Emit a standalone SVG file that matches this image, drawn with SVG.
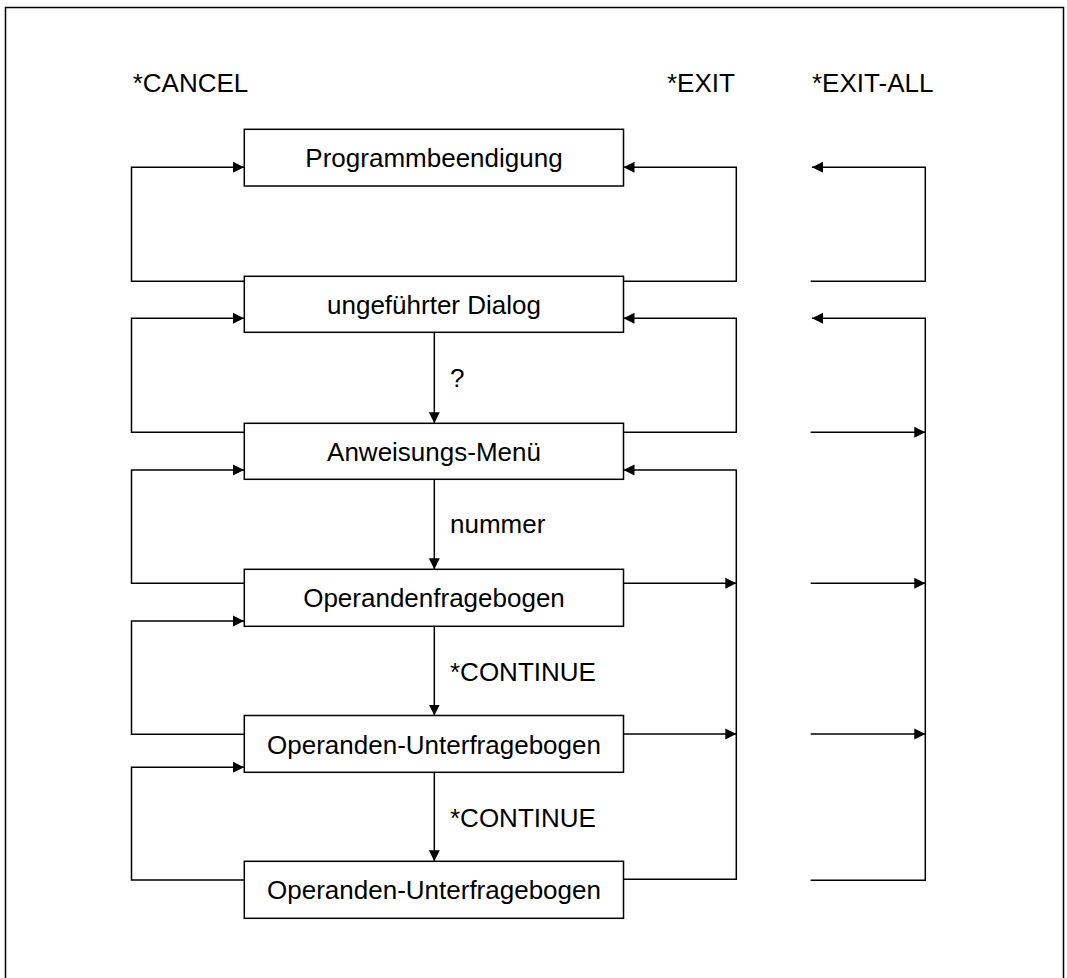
<svg xmlns="http://www.w3.org/2000/svg" width="1067" height="978" viewBox="0 0 1067 978">
<style>
.box{fill:#fff;stroke:#000;stroke-width:1.5}
.ln{fill:none;stroke:#000;stroke-width:1.5}
.arr{fill:none;stroke:#000;stroke-width:1.5;marker-end:url(#ah)}
text{font-family:"Liberation Sans",Arial,sans-serif;font-size:26px;fill:#000}
.c{text-anchor:middle}
</style>
<defs>
<marker id="ah" markerUnits="userSpaceOnUse" markerWidth="12" markerHeight="12" refX="11" refY="6" orient="auto" viewBox="0 0 12 12">
<path d="M0,0.5 L11,6 L0,11.5 z" fill="#000"/>
</marker>
</defs>
<path class="ln" d="M5.5,990 V7.5 H1063.5 V990"/>
<g id="labels">
<text x="132.7" y="92">*CANCEL</text>
<text x="667" y="92">*EXIT</text>
<text x="812" y="92">*EXIT-ALL</text>
</g>
<g id="connectors">
<path class="arr" d="M244,281.3 H131.5 V167.3 H244"/>
<path class="arr" d="M244,432.3 H131.5 V318.3 H244"/>
<path class="arr" d="M244,583.3 H131.5 V470 H244"/>
<path class="arr" d="M244,734.3 H131.5 V621 H244"/>
<path class="arr" d="M244,880 H131.5 V767.3 H244"/>
<path class="arr" d="M623.5,281.3 H736.3 V167.3 H623.5"/>
<path class="arr" d="M623.5,432.3 H736.3 V318.3 H623.5"/>
<path class="arr" d="M623.5,879.3 H736.3 V470 H623.5"/>
<path class="arr" d="M623.5,583.3 H736.3"/>
<path class="arr" d="M623.5,734 H736.3"/>
<path class="arr" d="M810.7,281.3 H925.3 V167.3 H812"/>
<path class="arr" d="M810.7,880.3 H925.3 V318.3 H812"/>
<path class="arr" d="M810.7,432.3 H925.3"/>
<path class="arr" d="M810.7,583.3 H925.3"/>
<path class="arr" d="M810.7,734 H925.3"/>
<path class="arr" d="M434.3,332.3 V423.3"/>
<path class="arr" d="M434.3,479.3 V569.3"/>
<path class="arr" d="M434.3,626.3 V715.5"/>
<path class="arr" d="M434.3,772.3 V861.3"/>
<text x="450" y="386.7">?</text>
<text x="450" y="533">nummer</text>
<text x="450" y="680.7">*CONTINUE</text>
<text x="450" y="826.7">*CONTINUE</text>
</g>
<g id="n1"><rect class="box" x="244.3" y="129.3" width="379.2" height="56.7"/><text class="c" x="434" y="167">Programmbeendigung</text></g>
<g id="n2"><rect class="box" x="244.3" y="276.3" width="379.2" height="56"/><text class="c" x="434" y="314">ungeführter Dialog</text></g>
<g id="n3"><rect class="box" x="244.3" y="423.3" width="379.2" height="56"/><text class="c" x="434" y="461">Anweisungs-Menü</text></g>
<g id="n4"><rect class="box" x="244.3" y="569.3" width="379.2" height="57"/><text class="c" x="434" y="607.3">Operandenfragebogen</text></g>
<g id="n5"><rect class="box" x="244.3" y="715.5" width="379.2" height="56.8"/><text class="c" x="434" y="753.5">Operanden-Unterfragebogen</text></g>
<g id="n6"><rect class="box" x="244.3" y="861.3" width="379.2" height="57"/><text class="c" x="434" y="899.3">Operanden-Unterfragebogen</text></g>
</svg>
